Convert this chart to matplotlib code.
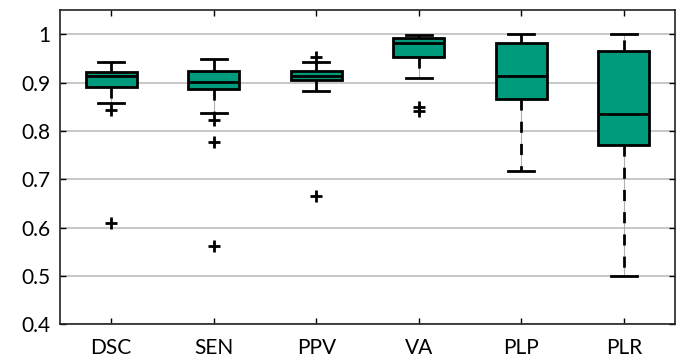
import matplotlib
matplotlib.use("Agg")
import matplotlib.pyplot as plt

categories = ["DSC", "SEN", "PPV", "VA", "PLP", "PLR"]
whislo = [0.858, 0.836, 0.882, 0.909, 0.716, 0.500]
q1 = [0.891, 0.887, 0.905, 0.953, 0.866, 0.771]
med = [0.914, 0.901, 0.914, 0.981, 0.913, 0.835]
q3 = [0.921, 0.924, 0.924, 0.992, 0.982, 0.966]
whishi = [0.942, 0.948, 0.943, 0.999, 1.000, 1.000]
fliers = [[0.843, 0.609], [0.822, 0.778, 0.561], [0.953, 0.666], [0.850, 0.841], [], []]
yticks = [0.4, 0.5, 0.6, 0.7, 0.8, 0.9, 1.0]
yticklabels = ["0.4", "0.5", "0.6", "0.7", "0.8", "0.9", "1"]

plt.rcParams['font.family'] = ['Lato', 'DejaVu Sans']

fig = plt.figure(figsize=(6.81, 3.61), dpi=100)
ax = fig.add_axes([0.0881, 0.1017, 0.9912 - 0.0881, 0.9723 - 0.1017])

stats = []
for i, c in enumerate(categories):
    stats.append(dict(label=c, whislo=whislo[i], q1=q1[i], med=med[i],
                      q3=q3[i], whishi=whishi[i], fliers=fliers[i]))

res = ax.bxp(stats, positions=range(1, len(categories) + 1), widths=0.5,
             capwidths=0.25, patch_artist=True,
             boxprops=dict(facecolor='#009B7D', edgecolor='black', linewidth=2),
             medianprops=dict(color='black', linewidth=2),
             whiskerprops=dict(color='black', linewidth=2, linestyle=(0, (4, 4))),
             capprops=dict(color='black', linewidth=2),
             flierprops=dict(marker='+', markeredgecolor='black', markersize=8,
                             markeredgewidth=2, linestyle='none'))

for w in res['whiskers']:
    ax.plot(w.get_xdata(), w.get_ydata(), color='#b0b0b0', linewidth=0.8,
            zorder=w.get_zorder() - 0.1)

ax.set_xlim(0.5, 6.5)
ax.set_ylim(0.4, 1.05)
ax.set_yticks(yticks)
ax.set_yticklabels(yticklabels)
ax.set_xticks(range(1, len(categories) + 1))
ax.set_xticklabels(categories)
ax.yaxis.grid(True, color='#bdbdbd', linewidth=1.2)
ax.set_axisbelow(True)
ax.tick_params(direction='in', top=True, right=True, length=4.5, width=1,
               labelsize=15, colors='black')
ax.tick_params(axis='x', pad=10)
ax.tick_params(axis='y', pad=7)
for s in ax.spines.values():
    s.set_linewidth(1.2)
    s.set_color('#222222')

fig.savefig("out.png", dpi=100)
